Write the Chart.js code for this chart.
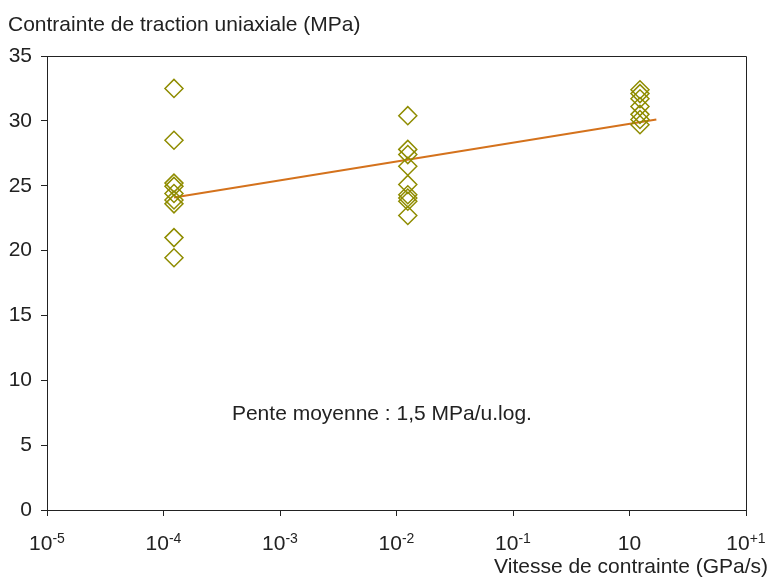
<!DOCTYPE html>
<html>
<head>
<meta charset="utf-8">
<script src="https://cdn.jsdelivr.net/npm/chart.js@4/dist/chart.umd.min.js"></script>
<style>
  html, body { margin: 0; padding: 0; background: #fff; }
  #wrap { width: 774px; height: 582px; position: relative; }
</style>
</head>
<body>
<div id="wrap"><canvas id="chart" width="774" height="582"></canvas></div>
<script>
// stress rates (GPa/s) for the three test groups
let rates = [1.23e-4, 1.25e-2, 1.23];

// measured tensile stress (MPa) per group
let stressLow = [32.5, 28.5, 25.2, 24.95, 24.4, 23.9, 23.6, 21.0, 19.45];
let stressMid = [30.4, 27.8, 27.4, 26.5, 25.1, 24.3, 24.05, 23.8, 22.7];
let stressHigh = [32.4, 32.1, 31.7, 31.1, 30.5, 30.1, 29.7];

// fitted line end points
let fitX = [1.23e-4, 1.7];
let fitY = [24.1, 30.1];

// x tick labels (base + exponent)
let xTickValues = [1e-5, 1e-4, 1e-3, 1e-2, 1e-1, 1, 10];
let xTickLabels = [["10", "-5"], ["10", "-4"], ["10", "-3"], ["10", "-2"], ["10", "-1"], ["10", ""], ["10", "+1"]];

let yTitle = "Contrainte de traction uniaxiale (MPa)";
let xTitle = "Vitesse de contrainte (GPa/s)";
let note = "Pente moyenne : 1,5 MPa/u.log.";
let notePos = { x: 7.5e-3, y: 7.4 };

let FONT = "'Liberation Sans', Arial, sans-serif";
let INK = "#222";

let points = [];
[stressLow, stressMid, stressHigh].forEach((arr, i) => {
    arr.forEach(v => points.push({ x: rates[i], y: v }));
});

let extras = {
    id: "extras",
    afterDraw(chart) {
        let ctx = chart.ctx;
        let area = chart.chartArea;
        let xs = chart.scales.x;
        let ys = chart.scales.y;
        ctx.save();
        // frame
        ctx.strokeStyle = INK;
        ctx.lineWidth = 1;
        ctx.beginPath();
        ctx.moveTo(Math.round(area.left) + 0.5, Math.round(area.top) + 0.5);
        ctx.lineTo(Math.round(area.right) + 0.5, Math.round(area.top) + 0.5);
        ctx.lineTo(Math.round(area.right) + 0.5, Math.round(area.bottom) + 0.5);
        ctx.stroke();

        ctx.fillStyle = INK;
        // x tick labels with superscripts
        xTickValues.forEach((v, i) => {
            let px = xs.getPixelForValue(v);
            let base = xTickLabels[i][0];
            let sup = xTickLabels[i][1];
            ctx.font = "21px " + FONT;
            let wb = ctx.measureText(base).width;
            ctx.font = "14px " + FONT;
            let ws = sup ? ctx.measureText(sup).width : 0;
            let start = px - (wb + ws) / 2;
            ctx.textAlign = "left";
            ctx.textBaseline = "alphabetic";
            ctx.font = "21px " + FONT;
            ctx.fillText(base, start, 550);
            if (sup) {
                ctx.font = "14px " + FONT;
                ctx.fillText(sup, start + wb, 543);
            }
        });

        ctx.font = "21px " + FONT;
        ctx.textBaseline = "alphabetic";
        ctx.textAlign = "left";
        ctx.fillText(yTitle, 8, 31);
        ctx.textAlign = "right";
        ctx.fillText(xTitle, 768, 573);
        ctx.textAlign = "center";
        ctx.textBaseline = "middle";
        ctx.fillText(note, xs.getPixelForValue(notePos.x), ys.getPixelForValue(notePos.y));
        ctx.restore();
    }
};

new Chart(document.getElementById("chart"), {
    type: "scatter",
    data: {
        datasets: [{
            label: "mesures",
            data: points,
            pointStyle: "rectRot",
            pointRadius: 9,
            pointBorderWidth: 1.5,
            pointBorderColor: "#8f8c00",
            pointBackgroundColor: "rgba(0,0,0,0)",
            order: 1
        }, {
            type: "line",
            label: "pente",
            data: fitX.map((x, i) => ({ x: x, y: fitY[i] })),
            borderColor: "#d4721c",
            borderWidth: 2,
            pointRadius: 0,
            fill: false,
            order: 2
        }]
    },
    plugins: [extras],
    options: {
        responsive: false,
        animation: false,
        devicePixelRatio: 1,
        layout: { padding: { top: 56, right: 28, left: 0, bottom: 0 } },
        plugins: { legend: { display: false }, tooltip: { enabled: false } },
        scales: {
            x: {
                type: "logarithmic",
                min: 1e-5,
                max: 10,
                afterBuildTicks(scale) {
                    scale.ticks = xTickValues.map(v => ({ value: v }));
                },
                afterFit(scale) { scale.height = 72; },
                ticks: { callback: () => "", font: { size: 21, family: FONT }, color: INK },
                grid: { drawOnChartArea: false, drawTicks: true, tickLength: 6, color: INK },
                border: { color: INK, width: 1 }
            },
            y: {
                min: 0,
                max: 35,
                afterFit(scale) { scale.width = 47; },
                ticks: { stepSize: 5, padding: 9, font: { size: 21, family: FONT }, color: INK },
                grid: { drawOnChartArea: false, drawTicks: true, tickLength: 6, color: INK },
                border: { color: INK, width: 1 }
            }
        }
    }
});
</script>
</body>
</html>
